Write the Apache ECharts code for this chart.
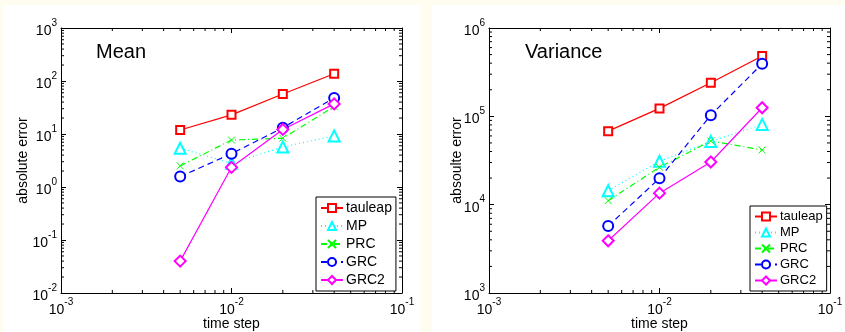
<!DOCTYPE html>
<html>
<head>
<meta charset="utf-8">
<script src="https://cdn.jsdelivr.net/npm/echarts@6/dist/echarts.min.js"></script>
<style>
  html, body { margin: 0; padding: 0; background: #fffdf0; }
  #chart { width: 845px; height: 332px; }
</style>
</head>
<body>
<div id="chart"></div>
<script>
// time steps (shared by both panels)
const timeSteps = [0.005, 0.01, 0.02, 0.04];
const seriesNames = ["tauleap", "MP", "PRC", "GRC", "GRC2"];

// Mean: absolute error
const meanTauleap = [11.9, 23, 57, 137];
const meanMP = [5.4, 2.8, 5.7, 9.2];
const meanPRC = [2.5, 7.7, 8.3, 33];
const meanGRC = [1.57, 4.25, 13.1, 48];
const meanGRC2 = [0.04, 2.35, 12.2, 37];

// Variance: absolute error
const varTauleap = [68000, 123000, 240000, 482000];
const varMP = [14400, 31000, 52000, 81000];
const varPRC = [11100, 26500, 52600, 41600];
const varGRC = [5730, 19900, 103000, 394000];
const varGRC2 = [3900, 13500, 30400, 125000];

// axis ranges
const xRange = [0.001, 0.1];
const meanRange = [0.01, 1000];
const varRange = [1000, 1000000];

const styles = [
  { color: "#ff0000", type: "solid", symbol: "emptyRect", size: 8 },
  { color: "#00ffff", type: [1, 3], symbol: "emptyTriangle", size: 11 },
  { color: "#00ff00", type: [6, 3, 1, 3], symbol: "path://M0,0L10,10M10,0L0,10", size: 7 },
  { color: "#0000ff", type: [6, 4], symbol: "emptyCircle", size: 10 },
  { color: "#ff00ff", type: "solid", symbol: "emptyDiamond", size: 11 },
];

const FONT = "Liberation Sans, Arial, Helvetica, sans-serif";

function powLabel(v) {
  const e = Math.round(Math.log10(v));
  return "{b|10}{s|" + e + "}";
}
const labelRich = {
  b: { fontSize: 14, color: "#000", fontFamily: FONT, padding: [6, 0, 0, 0] },
  s: { fontSize: 10, color: "#000", fontFamily: FONT, verticalAlign: "top" },
};

function makeSeries(values, gridIdx) {
  return values.map((vals, i) => {
    const st = styles[i];
    return {
      name: seriesNames[i],
      type: "line",
      xAxisIndex: gridIdx * 2,
      yAxisIndex: gridIdx * 2,
      data: timeSteps.map((t, k) => [t, vals[k]]),
      symbol: st.symbol,
      symbolSize: st.size,
      showAllSymbol: true,
      lineStyle: { color: st.color, width: 1.2, type: st.type },
      itemStyle: { color: st.color, borderColor: st.color, borderWidth: 1 },
      emphasis: { disabled: true },
      animation: false,
      z: 3,
    };
  });
}

// minor ticks at 2..9 x 10^k, log axes
function minorValues(min, max) {
  const out = [];
  for (let e = Math.round(Math.log10(min)); e < Math.round(Math.log10(max)); e++) {
    for (let m = 2; m <= 9; m++) out.push(m * Math.pow(10, e));
  }
  return out;
}

function minorTickSeries(gridIdx, yRange) {
  const data = [];
  minorValues(xRange[0], xRange[1]).forEach((v) => data.push([v, yRange[0], 0]));
  minorValues(yRange[0], yRange[1]).forEach((v) => data.push([xRange[0], v, 1]));
  return {
    type: "custom",
    xAxisIndex: gridIdx * 2,
    yAxisIndex: gridIdx * 2,
    silent: true,
    animation: false,
    clip: false,
    data: data,
    renderItem: function (params, api) {
      const kind = api.value(2);
      const st = { stroke: "#000", lineWidth: 1 };
      if (kind === 0) {
        const v = api.value(0);
        const p1 = api.coord([v, yRange[0]]);
        const p2 = api.coord([v, yRange[1]]);
        return {
          type: "group",
          children: [
            { type: "line", shape: { x1: p1[0], y1: p1[1], x2: p1[0], y2: p1[1] - 3 }, style: st },
            { type: "line", shape: { x1: p2[0], y1: p2[1], x2: p2[0], y2: p2[1] + 3 }, style: st },
          ],
        };
      }
      const v = api.value(1);
      const p1 = api.coord([xRange[0], v]);
      const p2 = api.coord([xRange[1], v]);
      return {
        type: "group",
        children: [
          { type: "line", shape: { x1: p1[0], y1: p1[1], x2: p1[0] + 3, y2: p1[1] }, style: st },
          { type: "line", shape: { x1: p2[0], y1: p2[1], x2: p2[0] - 3, y2: p2[1] }, style: st },
        ],
      };
    },
  };
}

function xAxes(gridIdx) {
  const base = {
    type: "log",
    logBase: 10,
    gridIndex: gridIdx,
    min: xRange[0],
    max: xRange[1],
    splitNumber: 2,
    axisLine: { show: true, onZero: false, lineStyle: { color: "#000", width: 1 } },
    axisTick: { show: true, inside: true, length: 5, lineStyle: { color: "#000" } },
    splitLine: { show: false },
  };
  return [
    Object.assign({}, base, {
      position: "bottom",
      name: "time step",
      nameLocation: "middle",
      nameGap: 24,
      nameMoveOverlap: false,
      nameTextStyle: { fontSize: 14, color: "#000", fontFamily: FONT },
      axisLabel: { formatter: powLabel, rich: labelRich, margin: 4, fontSize: 14 },
    }),
    Object.assign({}, base, { position: "top", axisLabel: { show: false } }),
  ];
}

function yAxes(gridIdx, range, splits, title, gap) {
  const base = {
    type: "log",
    logBase: 10,
    gridIndex: gridIdx,
    min: range[0],
    max: range[1],
    splitNumber: splits,
    axisLine: { show: true, onZero: false, lineStyle: { color: "#000", width: 1 } },
    axisTick: { show: true, inside: true, length: 5, lineStyle: { color: "#000" } },
    splitLine: { show: false },
  };
  return [
    Object.assign({}, base, {
      position: "left",
      name: title,
      nameLocation: "middle",
      nameGap: gap,
      nameMoveOverlap: false,
      nameTextStyle: { fontSize: 14, color: "#000", fontFamily: FONT },
      axisLabel: { formatter: powLabel, rich: labelRich, margin: 4, fontSize: 14 },
    }),
    Object.assign({}, base, { position: "right", axisLabel: { show: false } }),
  ];
}

function legendAt(left, top, fontSize, gap) {
  return {
    data: seriesNames,
    orient: "vertical",
    left: left,
    top: top,
    itemWidth: 22,
    itemHeight: 10,
    itemGap: gap,
    padding: [4, 4, 4, 4],
    backgroundColor: "#fff",
    borderColor: "#000",
    borderWidth: 1,
    selectedMode: false,
    textStyle: { fontSize: fontSize, color: "#000", fontFamily: FONT, padding: [0, 0, 0, -2] },
  };
}

const chart = echarts.init(document.getElementById("chart"));

const option = {
  backgroundColor: "#fffdf0",
  animation: false,
  graphic: [
    { type: "rect", z: -10, silent: true, shape: { x: 3, y: 5, width: 417, height: 327 }, style: { fill: "#fff" } },
    { type: "rect", z: -10, silent: true, shape: { x: 432, y: 5, width: 413, height: 327 }, style: { fill: "#fff" } },
  ],
  title: [
    { text: "Mean", left: 96, top: 42, padding: 0, textStyle: { fontSize: 20, fontWeight: "normal", color: "#000", fontFamily: FONT } },
    { text: "Variance", left: 525, top: 42, padding: 0, textStyle: { fontSize: 20, fontWeight: "normal", color: "#000", fontFamily: FONT } },
  ],
  legend: [legendAt(316, 197, 14, 4), legendAt(750, 206, 13, 3)],
  grid: [
    { left: 61, top: 28, width: 341, height: 265, outerBoundsMode: "none" },
    { left: 489, top: 28, width: 341, height: 265, outerBoundsMode: "none" },
  ],
  xAxis: xAxes(0).concat(xAxes(1)),
  yAxis: yAxes(0, meanRange, 5, "absolute error", 31).concat(yAxes(1, varRange, 3, "absoulte error", 25)),
  series: []
    .concat(makeSeries([meanTauleap, meanMP, meanPRC, meanGRC, meanGRC2], 0))
    .concat(makeSeries([varTauleap, varMP, varPRC, varGRC, varGRC2], 1))
    .concat([minorTickSeries(0, meanRange), minorTickSeries(1, varRange)]),
};

chart.setOption(option);
</script>
</body>
</html>
